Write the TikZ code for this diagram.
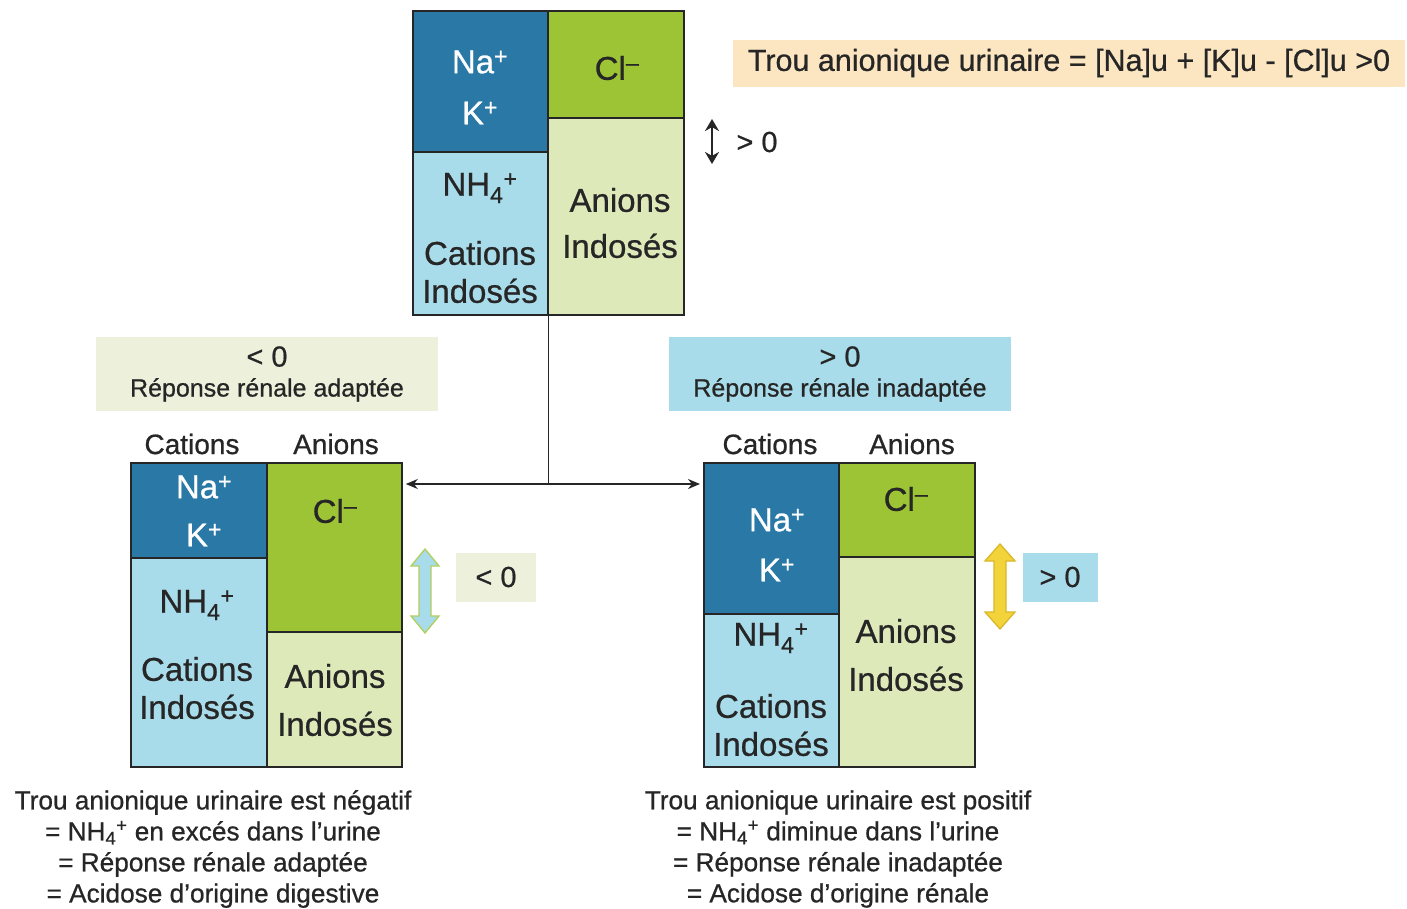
\documentclass[tikz,border=0pt]{standalone}
\usepackage{fontspec}
\setmainfont{Liberation Sans}[RawFeature={embolden=0.7}]
\usetikzlibrary{arrows.meta}
\definecolor{dblue}{HTML}{2A78A6}
\definecolor{lblue}{HTML}{A9DCEA}
\definecolor{dgreen}{HTML}{9CC435}
\definecolor{lgreen}{HTML}{DEE9BA}
\definecolor{peach}{HTML}{FCE6C2}
\definecolor{pgreen}{HTML}{EDF1DC}
\definecolor{txt}{HTML}{262626}
\definecolor{yel}{HTML}{F2D43A}
\definecolor{yeld}{HTML}{D9B82A}
\newcommand{\NHf}{NH\textsubscript{4}\textsuperscript{+}}
\begin{document}
\begin{tikzpicture}[x=1pt,y=-1pt,
  blockbox/.style={draw=txt, line width=1.8pt, minimum width=271pt, minimum height=304pt, anchor=north west, inner sep=0pt},
  divline/.style={draw=txt, line width=1.8pt},
  big/.style={font=\fontsize{33}{40}\selectfont, text=txt, align=center, inner sep=0pt},
  bigw/.style={big, text=white},
  head/.style={font=\fontsize{28}{32}\selectfont, text=txt, inner sep=0pt},
  lab/.style={font=\fontsize{25}{32}\selectfont, text=txt, align=center, inner sep=0pt},
  bot/.style={font=\fontsize{26.2}{31}\selectfont, text=txt, align=center, inner sep=0pt},
  conn/.style={draw=txt, line width=1.6pt},
  tip/.style={-{Stealth[length=12pt,width=10pt]}}
]
\useasboundingbox (0,0) rectangle (1407,908);
\fill[white] (0,0) rectangle (1407,908);

% ---------- top block ----------
\fill[dblue] (412,10) rectangle (548,152);
\fill[lblue] (412,152) rectangle (548,314);
\fill[dgreen] (548,10) rectangle (683,118);
\fill[lgreen] (548,118) rectangle (683,314);
\draw[divline] (412,152) -- (548,152) (548,118) -- (683,118) (548,10) -- (548,314);
\node[blockbox] (TB) at (412,10) {};
\node[bigw] (tna) at (480,62) {Na\textsuperscript{+}};
\node[bigw] (tk) at (480,113) {K\textsuperscript{+}};
\node[big] (tcl) at (617,68) {Cl\textsuperscript{–}};
\node[big] (tnh) at (480,188) {\NHf};
\node[big] (tcat) at (480,272) {Cations\\[-2pt]Indosés};
\node[big] (tan) at (620,223) {Anions\\[6pt]Indosés};

\draw[line width=2.8pt, {Stealth[length=12pt,width=14pt]}-{Stealth[length=12pt,width=14pt]}, txt] (712,119) -- (712,164);
\node[lab, font=\fontsize{29}{32}\selectfont] (tgt) at (757,142) {> 0};

\node[fill=peach, minimum width=672pt, minimum height=47pt, inner sep=0pt] (formula) at (1069,63)
  {\fontsize{30.5}{32}\selectfont\color{txt}Trou anionique urinaire = [Na]u + [K]u - [Cl]u >0};

% ---------- labels ----------
\node[fill=pgreen, minimum width=342pt, minimum height=74pt, lab] (LL) at (267,374) {{\fontsize{29}{30}\selectfont < 0}\\[-2pt]Réponse rénale adaptée};
\node[fill=lblue, minimum width=342pt, minimum height=74pt, lab] (RL) at (840,374) {{\fontsize{29}{30}\selectfont > 0}\\[-2pt]Réponse rénale inadaptée};

% ---------- left block ----------
\fill[dblue] (130,462) rectangle (267,558);
\fill[lblue] (130,558) rectangle (267,766);
\fill[dgreen] (267,462) rectangle (403,632);
\fill[lgreen] (267,632) rectangle (403,766);
\draw[divline] (130,558) -- (267,558) (267,632) -- (403,632) (267,462) -- (267,766);
\node[blockbox] (LB) at (130,462) {};
\node[head] (lhc) at (192,444) {Cations};
\node[head] (lha) at (336,444) {Anions};
\node[bigw] (lna) at (204,487) {Na\textsuperscript{+}};
\node[bigw] (lk) at (204,535) {K\textsuperscript{+}};
\node[big] (lcl) at (335,511) {Cl\textsuperscript{–}};
\node[big] (lnh) at (197,605) {\NHf};
\node[big] (lcat) at (197,688) {Cations\\[-2pt]Indosés};
\node[big] (lan) at (335,700) {Anions\\[8pt]Indosés};

\draw[draw=dgreen!70!lgreen, fill=lblue, line width=1.3pt]
  (425,549) -- (439,566) -- (431,566) -- (431,616) -- (439,616) -- (425,633) -- (411,616) -- (419,616) -- (419,566) -- (411,566) -- cycle;
\node[fill=pgreen, minimum width=80pt, minimum height=49pt, lab, font=\fontsize{29}{32}\selectfont] (lneg) at (496,577) {< 0};

% ---------- right block ----------
\fill[dblue] (703,462) rectangle (839,614);
\fill[lblue] (703,614) rectangle (839,766);
\fill[dgreen] (839,462) rectangle (976,557);
\fill[lgreen] (839,557) rectangle (976,766);
\draw[divline] (703,614) -- (839,614) (839,557) -- (976,557) (839,462) -- (839,766);
\node[blockbox] (RB) at (703,462) {};
\node[head] (rhc) at (770,444) {Cations};
\node[head] (rha) at (912,444) {Anions};
\node[bigw] (rna) at (777,520) {Na\textsuperscript{+}};
\node[bigw] (rk) at (777,570) {K\textsuperscript{+}};
\node[big] (rcl) at (906,499) {Cl\textsuperscript{–}};
\node[big] (rnh) at (771,638) {\NHf};
\node[big] (rcat) at (771,725) {Cations\\[-2pt]Indosés};
\node[big] (ran) at (906,655) {Anions\\[8pt]Indosés};

\draw[draw=yeld, fill=yel, line width=1.3pt]
  (1000,544) -- (1015,561) -- (1006,561) -- (1006,612) -- (1015,612) -- (1000,629) -- (985,612) -- (994,612) -- (994,561) -- (985,561) -- cycle;
\node[fill=lblue, minimum width=75pt, minimum height=49pt, lab, font=\fontsize{29}{32}\selectfont] (rpos) at (1060,577) {> 0};

% ---------- connectors ----------
\coordinate (J) at (TB.south |- 0,484);
\draw[conn] (TB.south) -- (J);
\draw[conn, tip, shorten >=3pt] (J) -- (LB.east |- J);
\draw[conn, tip, shorten >=3pt] (J) -- (RB.west |- J);

% ---------- bottom texts ----------
\node[bot] (lbot) at (213,849)
  {Trou anionique urinaire est négatif\\= \NHf{} en excés dans l’urine\\= Réponse rénale adaptée\\= Acidose d’origine digestive};
\node[bot] (rbot) at (838,849)
  {Trou anionique urinaire est positif\\= \NHf{} diminue dans l’urine\\= Réponse rénale inadaptée\\= Acidose d’origine rénale};
\end{tikzpicture}
\end{document}
